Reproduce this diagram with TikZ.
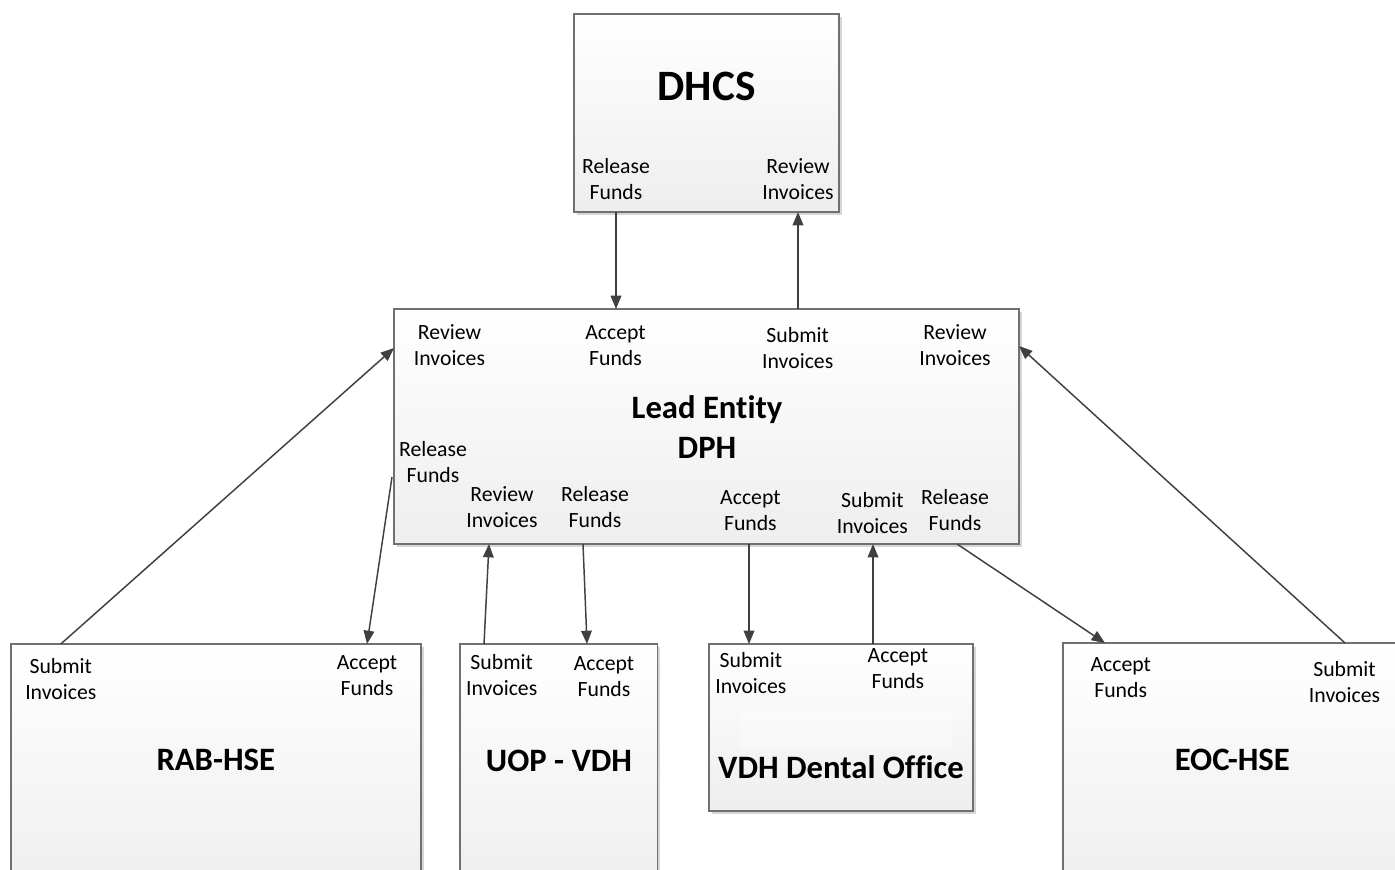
\documentclass[tikz,border=0pt]{standalone}
\usepackage{fontspec}
\setmainfont{Carlito}[Ligatures=CommonOff,RawFeature={-liga;-clig;-dlig}]
\usetikzlibrary{arrows.meta,shadows,calc}
\definecolor{edgec}{HTML}{404040}
\definecolor{bordc}{HTML}{707070}
\definecolor{shdc}{HTML}{D6D6D6}
\definecolor{botc}{HTML}{EEEEEE}
\begin{document}
\begin{tikzpicture}[x=0.75pt,y=-0.75pt,
  box/.style={rectangle, draw=bordc, line width=0.9pt, top color=white, bottom color=botc,
    inner sep=0pt, outer sep=0pt,
    drop shadow={shadow xshift=2.2pt, shadow yshift=-2.2pt, fill=shdc, opacity=1}},
  lbl/.style={font=\fontsize{16.3}{19.5}\selectfont, align=center, inner sep=0pt},
  ttl/.style={font=\bfseries\fontsize{24.5}{30}\selectfont, align=center, inner sep=0pt},
  bigttl/.style={font=\bfseries\fontsize{32.5}{39}\selectfont, align=center, inner sep=0pt},
  arr/.style={draw=edgec, line width=1.1pt, -{Triangle[length=10pt,width=8pt]}}
]
\useasboundingbox (0,0) rectangle (1395,869);

% boxes
\node[box, minimum width=198.75pt, minimum height=148.5pt] (dhcs) at (706.5,113) {};
\node[box, minimum width=468.75pt, minimum height=176.25pt] (lead) at (706.5,426.5) {};
\node[box, minimum width=307.5pt, minimum height=189pt] (rab) at (216,770) {};
\node[box, minimum width=148.125pt, minimum height=189pt] (uop) at (558.75,770) {};
\node[box, minimum width=198pt, minimum height=125.25pt] (vdh) at (841,727.5) {};
\node[box, minimum width=267.75pt, minimum height=189pt] (eoc) at (1241.5,769) {};
\fill[white, opacity=0.35] (739.7,710.7) rectangle (950.7,750);

% DHCS texts
\node[bigttl] (dT) at (706.5,86) {DHCS};
\node[lbl] (dRel) at (616,179.5) {Release\\Funds};
\node[lbl] (dRev) at (798,179.5) {Review\\Invoices};

% Lead entity texts
\node[ttl] (lT) at (707,427) {Lead Ent\kern0pt ity\\DPH};
\node[lbl] (lRevL) at (449.5,345.5) {Review\\Invoices};
\node[lbl] (lAcc) at (615.5,345.5) {Accept\\Funds};
\node[lbl] (lSub) at (797.7,348.4) {Submit\\Invoices};
\node[lbl] (lRevR) at (955,345.5) {Review\\Invoices};
\node[lbl] (lRelL) at (433,461.7) {Release\\Funds};
\node[lbl] (lRevB) at (502,506.7) {Review\\Invoices};
\node[lbl] (lRelB) at (595,506.7) {Release\\Funds};
\node[lbl] (lAccB) at (750.4,510.2) {Accept\\Funds};
\node[lbl] (lSubB) at (872.4,513.3) {Submit\\Invoices};
\node[lbl] (lRelR) at (955,510) {Release\\Funds};

% RAB-HSE
\node[lbl] (rSub) at (60.8,679.2) {Submit\\Invoices};
\node[lbl] (rAcc) at (367,675.7) {Accept\\Funds};
\node[ttl] (rT) at (215.8,759.7) {RAB-HSE};

% UOP - VDH
\node[lbl] (uSub) at (501.7,675.5) {Submit\\Invoices};
\node[lbl] (uAcc) at (604,676.2) {Accept\\Funds};
\node[ttl] (uT) at (559,760.8) {UOP - VDH};

% VDH Dental Office
\node[lbl] (vSub) at (750.9,673.4) {Submit\\Invoices};
\node[lbl] (vAcc) at (897.9,668.4) {Accept\\Funds};
\node[ttl] (vT) at (841,766.7) {VDH Dental Office};

% EOC-HSE
\node[lbl] (eAcc) at (1120.7,677.3) {Accept\\Funds};
\node[lbl] (eSub) at (1344.5,682.2) {Submit\\Invoices};
\node[ttl] (eT) at (1232.3,760) {EOC-HSE};

% connectors
\draw[arr] (dhcs.south -| dRel) -- (lead.north -| dRel);
\draw[arr] (lead.north -| dRev) -- (dhcs.south -| dRev);
\draw[arr] (rab.north -| rSub) -- ($(lead.north west)+(0,39)$);
\draw[arr] ($(lead.north west)+(-2,168)$) -- (rab.north -| rAcc);
\draw[arr] ($(uop.north west)+(24,0)$) -- ($(lead.south west)+(95,0)$);
\draw[arr] ($(lead.south west)+(189,0)$) -- ($(uop.north west)+(127,0)$);
\draw[arr] ($(lead.south west)+(355,0)$) -- ($(vdh.north west)+(40,0)$);
\draw[arr] ($(vdh.north west)+(164,0)$) -- ($(lead.south west)+(479,0)$);
\draw[arr] ($(lead.south west)+(563,0)$) -- ($(eoc.north west)+(42,0)$);
\draw[arr] ($(eoc.north west)+(282,0)$) -- ($(lead.north east)+(0,37)$);
\end{tikzpicture}
\end{document}
